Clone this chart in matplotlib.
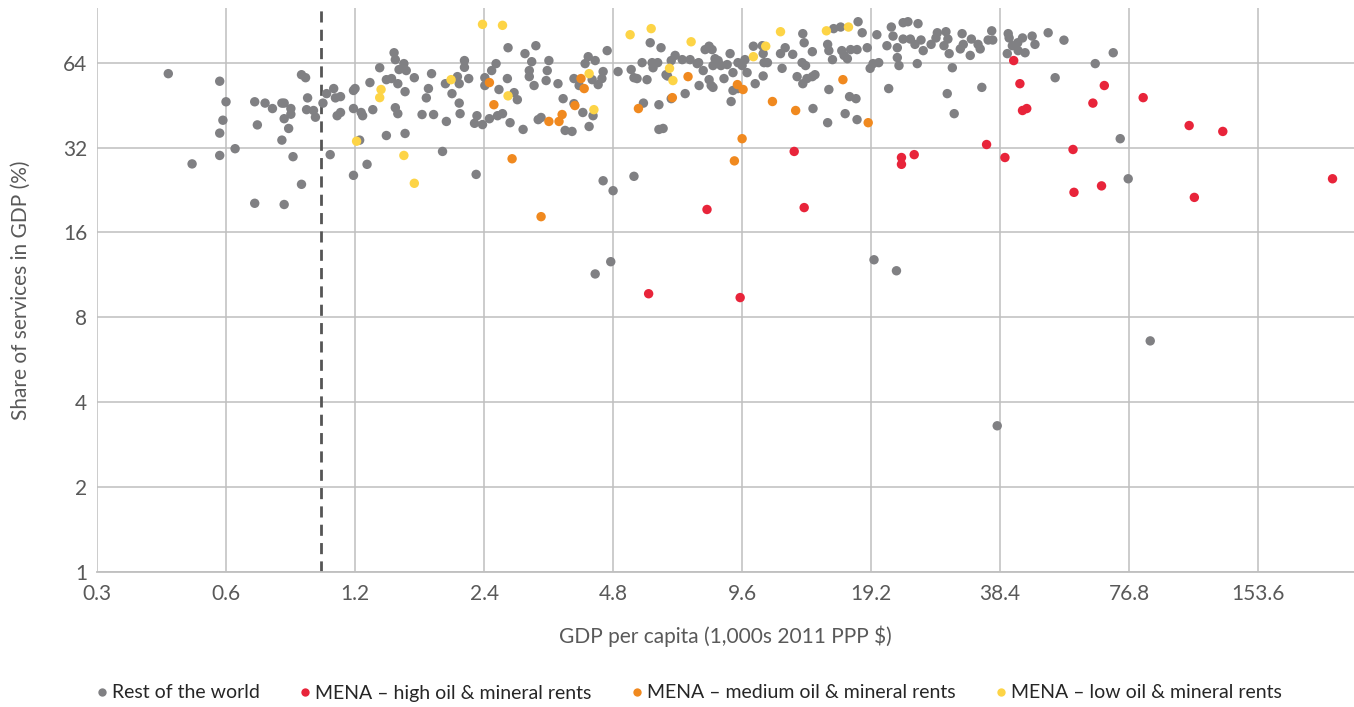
import matplotlib
matplotlib.use("Agg")
import matplotlib.pyplot as plt
from matplotlib.lines import Line2D

# GDP per capita (1,000s 2011 PPP $) / share of services in GDP (%)
rest_gdp = [0.44, 0.50, 0.58, 0.60, 0.59, 0.58, 0.58, 0.63, 0.70, 0.74,
            0.77, 0.81, 0.82, 0.85, 0.85, 0.82, 0.71, 0.84, 0.81, 0.86,
            0.70, 0.82, 0.90, 0.90, 0.92, 0.93, 0.925, 0.96, 0.97, 1.01,
            1.03, 1.07, 1.08, 1.11, 1.09, 1.11, 1.05, 1.19, 1.20, 1.19,
            1.25, 1.24, 1.32, 1.30, 1.37, 1.28, 1.19, 1.23, 1.42, 1.42,
            1.46, 1.49, 1.48, 1.49, 1.51, 1.51, 1.52, 1.56, 1.58, 1.57,
            1.57, 1.65, 1.72, 1.76, 1.78, 1.81, 1.83, 1.92, 1.96, 1.95,
            2.02, 2.08, 2.10, 2.10, 2.11, 2.16, 2.16, 2.21, 2.31, 2.28,
            2.38, 2.30, 2.41, 2.41, 2.47, 2.50, 2.56, 2.60, 2.58, 2.65,
            2.73, 2.72, 2.76, 2.82, 2.87, 2.96, 2.99, 3.06, 3.06, 3.10,
            3.17, 3.14, 3.21, 3.26, 3.35, 3.37, 3.40, 3.57, 3.67, 3.71,
            3.85, 3.89, 3.89, 4.00, 4.08, 4.13, 4.20, 4.29, 4.31, 4.22,
            4.36, 4.43, 4.52, 4.55, 4.65, 4.93, 4.55, 4.80, 4.36, 4.74,
            5.37, 5.29, 5.37, 5.46, 5.61, 5.76, 5.65, 5.86, 5.92, 5.95,
            6.14, 6.14, 6.28, 6.21, 6.38, 6.56, 6.70, 6.56, 7.07, 6.96,
            7.26, 7.54, 7.60, 7.79, 7.62, 7.87, 8.04, 8.17, 8.21, 8.30,
            8.44, 8.57, 8.71, 8.86, 9.00, 9.14, 9.39, 9.60, 9.75, 9.86,
            10.2, 10.3, 10.7, 10.75, 10.8, 11.0, 10.75, 9.05, 9.14, 9.39,
            8.13, 8.21, 8.04, 6.43, 6.10, 11.8, 11.9, 12.1, 12.6, 13.3,
            13.4, 13.25, 13.5, 12.9, 13.3, 13.6, 14.0, 14.0, 14.2, 14.05,
            15.3, 15.2, 15.2, 15.3, 15.6, 15.7, 16.3, 16.4, 16.6, 16.9,
            17.2, 17.8, 17.9, 18.3, 17.1, 17.7, 16.7, 17.8, 18.8, 19.1,
            19.4, 20.0, 19.8, 20.9, 21.4, 21.6, 22.1, 22.3, 22.1, 22.8,
            23.4, 24.7, 22.8, 23.7, 24.3, 25.1, 25.4, 24.6, 26.5, 27.4,
            27.2, 28.7, 29.0, 28.4, 29.2, 29.7, 28.9, 30.0, 21.1, 31.3,
            31.5, 31.0, 32.7, 32.9, 34.1, 34.5, 36.0, 36.7, 36.9, 34.8,
            40.1, 40.3, 39.9, 41.0, 42.2, 42.3, 43.3, 43.9, 45.6, 46.3,
            49.7, 19.5, 22.0, 54.1, 70.5, 64.0, 51.6, 73.2, 76.4, 86.0,
            37.8]
rest_services = [58.5, 28.0, 55.0, 46.5, 40.0, 36.0, 30.0, 31.7, 46.5, 46.0,
                 44.0, 46.0, 46.0, 44.0, 42.0, 40.5, 38.5, 37.4, 34.0, 29.7,
                 20.3, 20.1, 23.7, 58.0, 56.6, 48.0, 43.6, 43.3, 41.0, 46.0,
                 49.7, 51.8, 48.0, 48.5, 41.5, 42.6, 30.2, 51.0, 51.8, 44.0,
                 41.5, 42.6, 43.6, 54.4, 61.4, 27.9, 25.5, 34.0, 35.3, 55.7,
                 56.2, 65.6, 69.4, 44.3, 53.9, 42.2, 60.5, 63.5, 60.0, 50.5,
                 35.9, 56.6, 41.9, 48.0, 51.8, 58.5, 41.9, 31.0, 39.6, 53.9,
                 49.7, 57.1, 53.9, 46.0, 42.2, 65.1, 61.6, 56.2, 41.5, 39.0,
                 38.6, 25.7, 56.6, 53.1, 40.5, 60.0, 63.5, 51.4, 41.5, 42.2,
                 72.3, 56.2, 39.2, 50.1, 47.3, 37.1, 68.9, 60.0, 57.1, 64.5,
                 73.5, 53.1, 40.2, 40.9, 55.3, 60.0, 65.1, 53.9, 47.7, 36.8,
                 36.5, 56.2, 45.8, 53.1, 42.6, 63.5, 67.2, 55.7, 41.5, 38.0,
                 65.1, 53.5, 56.2, 59.5, 70.6, 59.5, 24.4, 22.5, 11.4, 12.6,
                 25.3, 60.5, 56.6, 56.2, 64.0, 55.7, 46.0, 75.3, 64.0, 61.4,
                 45.4, 37.1, 37.4, 72.3, 58.0, 65.1, 67.9, 47.7, 49.7, 65.6,
                 65.6, 63.5, 64.0, 60.0, 53.1, 71.2, 73.2, 71.2, 62.5, 66.1,
                 65.1, 62.5, 56.2, 63.0, 68.9, 59.0, 64.0, 62.5, 65.6, 59.0,
                 73.2, 53.9, 73.5, 68.9, 64.0, 64.0, 57.4, 46.6, 51.0, 51.8,
                 53.1, 52.3, 55.7, 57.4, 64.0, 68.9, 61.1, 72.3, 68.5, 81.1,
                 75.3, 64.0, 62.5, 57.1, 53.9, 56.2, 70.0, 57.1, 58.0, 44.0,
                 51.4, 39.2, 74.3, 70.6, 65.6, 84.5, 85.6, 70.6, 67.9, 66.1,
                 71.2, 71.2, 89.4, 81.7, 48.5, 47.7, 42.2, 40.2, 72.3, 61.1,
                 63.5, 64.0, 80.4, 73.5, 85.6, 79.5, 72.3, 62.5, 66.7, 88.7,
                 89.4, 88.0, 77.6, 77.6, 74.3, 77.0, 70.6, 63.5, 74.3, 81.7,
                 78.3, 82.4, 77.6, 73.5, 68.9, 61.4, 49.7, 42.2, 51.8, 81.1,
                 74.3, 71.6, 67.9, 77.6, 74.3, 71.6, 77.0, 83.0, 77.0, 52.3,
                 81.1, 78.3, 68.9, 73.5, 75.3, 70.6, 78.3, 69.4, 79.5, 74.3,
                 81.7, 12.8, 11.7, 76.9, 69.4, 63.5, 56.6, 34.4, 24.8, 6.6,
                 3.3]

high_gdp = [5.81, 9.50, 7.95, 12.7, 13.4, 22.6, 22.6, 24.2, 35.7, 39.4,
            41.3, 42.7, 43.3, 44.3, 56.8, 57.1, 63.2, 67.2, 66.2, 82.8,
            106.0, 109.0, 127.0, 229.0]
high_services = [9.7, 9.4, 19.3, 31.0, 19.6, 29.5, 27.9, 30.2, 32.8, 29.5,
                 65.1, 53.9, 43.3, 44.0, 31.5, 22.2, 46.0, 53.1, 23.4, 48.1,
                 38.3, 21.3, 36.5, 24.8]

medium_gdp = [2.47, 2.53, 2.79, 3.26, 3.40, 3.59, 3.65, 3.91, 4.04, 4.11,
              5.50, 6.60, 7.18, 9.36, 9.65, 11.3, 12.8, 16.5, 18.9, 9.60,
              9.21]
medium_services = [54.4, 45.4, 29.2, 18.2, 39.6, 39.6, 41.9, 45.1, 56.2, 51.8,
                   44.0, 48.1, 57.1, 53.5, 51.4, 46.6, 43.3, 55.7, 39.2, 34.4,
                   28.7]

low_gdp = [1.21, 1.37, 1.38, 1.56, 1.65, 2.01, 2.38, 2.65, 2.73, 4.22,
           4.33, 5.26, 5.89, 6.50, 6.62, 7.30, 10.2, 10.9, 11.8, 15.1,
           17.0]
low_services = [33.7, 48.1, 51.4, 30.0, 23.9, 55.7, 87.5, 86.8, 48.8, 58.5,
                43.6, 80.4, 84.5, 61.1, 55.3, 75.9, 67.2, 73.2, 82.4, 83.0,
                85.6]

x_ticks = [0.3, 0.6, 1.2, 2.4, 4.8, 9.6, 19.2, 38.4, 76.8, 153.6]
x_tick_labels = ["0.3", "0.6", "1.2", "2.4", "4.8", "9.6", "19.2", "38.4", "76.8", "153.6"]
y_ticks = [1, 2, 4, 8, 16, 32, 64]
low_income_line = 1.0

series = [
    ("Rest of the world", rest_gdp, rest_services, "#808083"),
    ("MENA \u2013 high oil & mineral rents", high_gdp, high_services, "#E8243A"),
    ("MENA \u2013 medium oil & mineral rents", medium_gdp, medium_services, "#F0891F"),
    ("MENA \u2013 low oil & mineral rents", low_gdp, low_services, "#FDD446"),
]

plt.rcParams["font.family"] = ["Lato", "DejaVu Sans"]
text_color = "#595959"
grid_color = "#BFBFBF"

fig = plt.figure(figsize=(13.54, 7.07), dpi=100)
ax = fig.add_axes([97 / 1354, 135 / 707, 1 - 97 / 1354, (572 - 8) / 707])

for name, xs, ys, color in series:
    ax.scatter(xs, ys, s=46, color=color, edgecolors="none", zorder=3, label=name)

ax.axvline(low_income_line, color="#555555", lw=2, ls=(0, (4, 2.6)), zorder=2)

ax.set_xscale("log", base=2)
ax.set_yscale("log", base=2)
ax.set_xlim(0.3, 257)
ax.set_ylim(1, 100)

ax.set_xticks(x_ticks)
ax.set_xticklabels(x_tick_labels)
ax.set_yticks(y_ticks)
ax.set_yticklabels([str(v) for v in y_ticks])
ax.minorticks_off()
ax.tick_params(length=0, labelsize=15, colors=text_color)
ax.tick_params(axis="x", pad=9)
ax.tick_params(axis="y", pad=7)

ax.grid(True, color=grid_color, lw=1.1, zorder=0)
ax.set_axisbelow(True)
for side in ["top", "right", "left"]:
    ax.spines[side].set_visible(False)
ax.spines["bottom"].set_color(grid_color)
ax.spines["bottom"].set_linewidth(1.3)

ax.set_xlabel("GDP per capita (1,000s 2011 PPP $)", fontsize=15, color=text_color, labelpad=15)
ax.set_ylabel("Share of services in GDP (%)", fontsize=15, color=text_color, labelpad=23)

handles = [Line2D([], [], marker="o", ls="none", markersize=6, markerfacecolor=c,
                  markeredgecolor="none") for _, _, _, c in series]
labels = [s[0] for s in series]
fig.legend(handles, labels, loc="center left", bbox_to_anchor=(96 / 1354, 1 - 693 / 707),
           ncol=4, frameon=False, fontsize=14, handlelength=0.6, handletextpad=0.2,
           columnspacing=2.05, borderpad=0, borderaxespad=0, labelcolor="#262626")

fig.savefig("out.png", dpi=100)
